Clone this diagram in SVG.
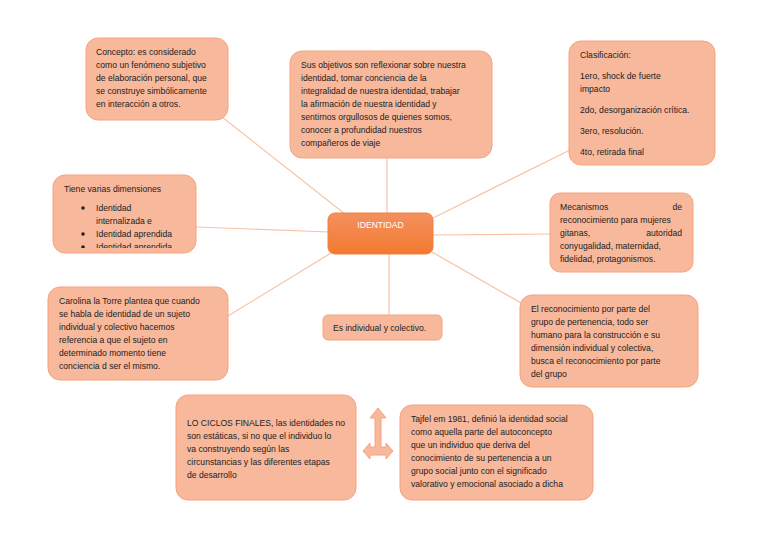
<svg xmlns="http://www.w3.org/2000/svg" width="768" height="543" viewBox="0 0 768 543">
<style>
.b{fill:#f8b89b;stroke:#f5a47f;stroke-width:1}
.t{font-family:"Liberation Sans",Arial,sans-serif;font-size:8.6px;fill:#222}
.c line{stroke:#f8c3a6;stroke-width:1.2}
</style>
<defs>
<linearGradient id="g" x1="0" y1="0" x2="0" y2="1"><stop offset="0" stop-color="#f49060"/><stop offset="1" stop-color="#f27a2e"/></linearGradient>
<clipPath id="cp"><rect x="53" y="175" width="143" height="73"/></clipPath>
</defs>
<rect width="768" height="543" fill="#fff"/>
<g class="c" id="connectors">
<line x1="222" y1="117" x2="345" y2="214"/>
<line x1="387" y1="158" x2="387" y2="214"/>
<line x1="433" y1="218" x2="570" y2="150"/>
<line x1="196" y1="227" x2="329" y2="232"/>
<line x1="433" y1="235" x2="550" y2="234"/>
<line x1="228" y1="316" x2="331" y2="253"/>
<line x1="389" y1="254" x2="389" y2="315"/>
<line x1="432" y1="252" x2="521" y2="303"/>
</g>
<g id="concepto"><rect class="b" x="86" y="38" width="142" height="82" rx="12"/>
<text class="t" x="96" y="55">Concepto: es considerado</text>
<text class="t" x="96" y="68">como un fenómeno subjetivo</text>
<text class="t" x="96" y="81">de elaboración personal, que</text>
<text class="t" x="96" y="94">se construye simbólicamente</text>
<text class="t" x="96" y="107">en interacción a otros.</text></g>
<g id="objetivos"><rect class="b" x="290" y="51" width="202" height="107" rx="12"/>
<text class="t" x="301" y="68">Sus objetivos son reflexionar sobre nuestra</text>
<text class="t" x="301" y="81">identidad, tomar conciencia de la</text>
<text class="t" x="301" y="94">integralidad de nuestra identidad, trabajar</text>
<text class="t" x="301" y="107">la afirmación de nuestra identidad y</text>
<text class="t" x="301" y="120">sentirnos orgullosos de quienes somos,</text>
<text class="t" x="301" y="133">conocer a profundidad nuestros</text>
<text class="t" x="301" y="146">compañeros de viaje</text></g>
<g id="clasificacion"><rect class="b" x="569" y="41" width="146" height="124" rx="12"/>
<text class="t" x="580" y="58">Clasificación:</text>
<text class="t" x="580" y="79">1ero, shock de fuerte</text>
<text class="t" x="580" y="92">impacto</text>
<text class="t" x="580" y="113">2do, desorganización crítica.</text>
<text class="t" x="580" y="134">3ero, resolución.</text>
<text class="t" x="580" y="155">4to, retirada final</text></g>
<g id="dimensiones"><rect class="b" x="53" y="175" width="143" height="78" rx="12"/>
<g clip-path="url(#cp)">
<text class="t" x="64" y="192">Tiene varias dimensiones</text>
<circle cx="83" cy="208" r="1.8" fill="#222"/>
<text class="t" x="96" y="211">Identidad</text>
<text class="t" x="96" y="224">internalizada e</text>
<circle cx="83" cy="234" r="1.8" fill="#222"/>
<text class="t" x="96" y="237">Identidad aprendida</text>
<circle cx="83" cy="247" r="1.8" fill="#222"/>
<text class="t" x="96" y="250">Identidad aprendida</text>
</g></g>
<g id="identidad"><rect x="328" y="213" width="105" height="41" rx="7" fill="url(#g)" stroke="#f08040"/>
<text x="380.5" y="228" text-anchor="middle" font-family="Liberation Sans,Arial,sans-serif" font-size="8.6" fill="#fff">IDENTIDAD</text></g>
<g id="mecanismos"><rect class="b" x="550" y="193" width="143" height="79" rx="10"/>
<text class="t" x="560" y="210">Mecanismos</text><text class="t" x="682" y="210" text-anchor="end">de</text>
<text class="t" x="560" y="223">reconocimiento para mujeres</text>
<text class="t" x="560" y="236">gitanas,</text><text class="t" x="682" y="236" text-anchor="end">autoridad</text>
<text class="t" x="560" y="249">conyugalidad, maternidad,</text>
<text class="t" x="560" y="262">fidelidad, protagonismos.</text></g>
<g id="carolina"><rect class="b" x="48" y="287" width="180" height="93" rx="12"/>
<text class="t" x="59" y="304">Carolina la Torre plantea que cuando</text>
<text class="t" x="59" y="317">se habla de identidad de un sujeto</text>
<text class="t" x="59" y="330">individual y colectivo hacemos</text>
<text class="t" x="59" y="343">referencia a que el sujeto en</text>
<text class="t" x="59" y="356">determinado momento tiene</text>
<text class="t" x="59" y="369">conciencia d ser el mismo.</text></g>
<g id="individual"><rect class="b" x="323" y="315" width="119" height="25" rx="5"/>
<text class="t" x="333" y="331">Es individual y colectivo.</text></g>
<g id="reconocimiento"><rect class="b" x="520" y="295" width="178" height="92" rx="12"/>
<text class="t" x="531" y="312">El reconocimiento por parte del</text>
<text class="t" x="531" y="325">grupo de pertenencia, todo ser</text>
<text class="t" x="531" y="338">humano para la construcción e su</text>
<text class="t" x="531" y="351">dimensión individual y colectiva,</text>
<text class="t" x="531" y="364">busca el reconocimiento por parte</text>
<text class="t" x="531" y="377">del grupo</text></g>
<g id="ciclos"><rect class="b" x="176" y="395" width="180" height="105" rx="12"/>
<text class="t" x="187" y="426">LO CICLOS FINALES, las identidades no</text>
<text class="t" x="187" y="439">son estáticas, si no que el individuo lo</text>
<text class="t" x="187" y="452">va construyendo según las</text>
<text class="t" x="187" y="465">circunstancias y las diferentes etapas</text>
<text class="t" x="187" y="478">de desarrollo</text></g>
<g id="flecha"><polygon class="b" points="378,408 386,418 381,418 381,447 386,447 386,443 393,451 386,459 386,455 370,455 370,459 363,451 370,443 370,447 375,447 375,418 370,418"/></g>
<g id="tajfel"><rect class="b" x="400" y="405" width="193" height="95" rx="12"/>
<text class="t" x="411" y="422">Tajfel em 1981, definió la identidad social</text>
<text class="t" x="411" y="435">como aquella parte del autoconcepto</text>
<text class="t" x="411" y="448">que un individuo que deriva del</text>
<text class="t" x="411" y="461">conocimiento de su pertenencia a un</text>
<text class="t" x="411" y="474">grupo social junto con el significado</text>
<text class="t" x="411" y="487">valorativo y emocional asociado a dicha</text></g>
</svg>
